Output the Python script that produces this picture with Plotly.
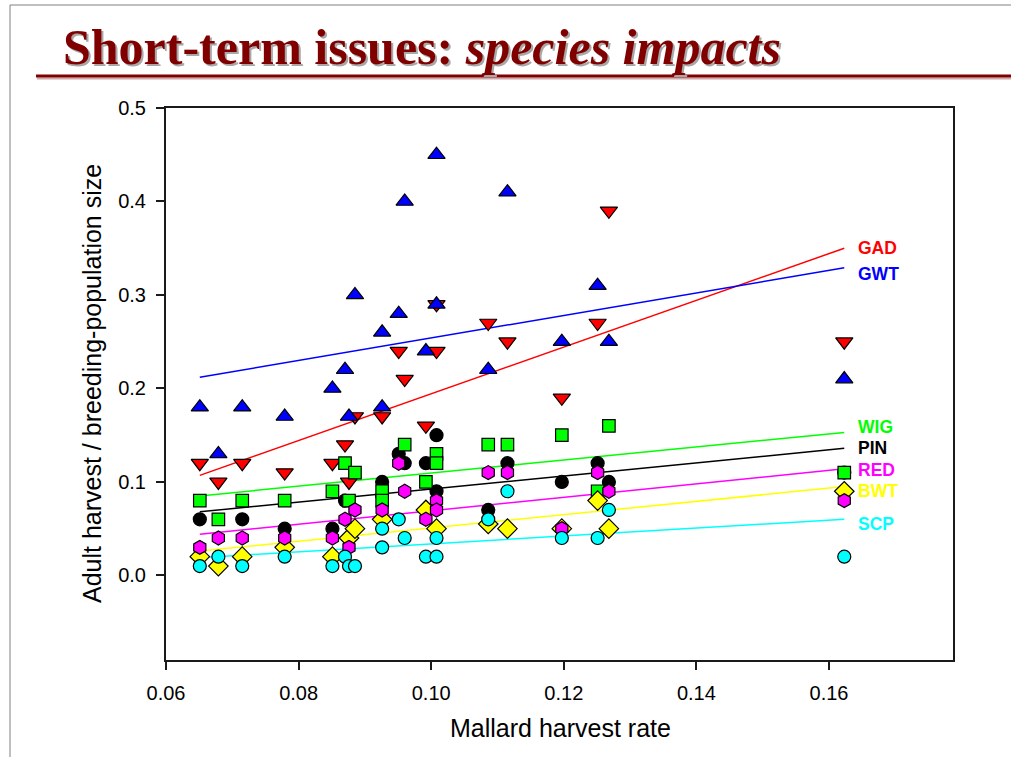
import plotly.graph_objects as go

# ---- data: mallard harvest rate vs adult harvest / breeding-population size ----
species = ["GAD", "GWT", "PIN", "WIG", "BWT", "RED", "SCP"]

gad_x = [0.0651, 0.0679, 0.0715, 0.0779, 0.0851, 0.0870, 0.0876, 0.0885, 0.0926, 0.0951,
         0.0960, 0.0992, 0.1008, 0.1008, 0.1086, 0.1115, 0.1197, 0.1251, 0.1268, 0.1623]
gad_y = [0.12, 0.10, 0.12, 0.11, 0.12, 0.14, 0.10, 0.17, 0.17, 0.24,
         0.21, 0.16, 0.29, 0.24, 0.27, 0.25, 0.19, 0.27, 0.39, 0.25]

gwt_x = [0.0651, 0.0679, 0.0715, 0.0779, 0.0851, 0.0870, 0.0876, 0.0885, 0.0926, 0.0926, 0.0951,
         0.0960, 0.0992, 0.1008, 0.1008, 0.1086, 0.1115, 0.1197, 0.1251, 0.1268, 0.1623]
gwt_y = [0.18, 0.13, 0.18, 0.17, 0.20, 0.22, 0.17, 0.30, 0.26, 0.18, 0.28,
         0.40, 0.24, 0.45, 0.29, 0.22, 0.41, 0.25, 0.31, 0.25, 0.21]

pin_x = [0.0651, 0.0715, 0.0779, 0.0851, 0.0870, 0.0926, 0.0951, 0.0960, 0.0992,
         0.1008, 0.1008, 0.1086, 0.1115, 0.1197, 0.1251, 0.1268, 0.1623]
pin_y = [0.06, 0.06, 0.05, 0.05, 0.08, 0.10, 0.13, 0.12, 0.12,
         0.15, 0.09, 0.07, 0.12, 0.10, 0.12, 0.10, 0.11]

wig_x = [0.0651, 0.0679, 0.0715, 0.0779, 0.0851, 0.0870, 0.0876, 0.0885, 0.0926, 0.0926,
         0.0960, 0.0992, 0.1008, 0.1008, 0.1086, 0.1115, 0.1197, 0.1251, 0.1268, 0.1623]
wig_y = [0.08, 0.06, 0.08, 0.08, 0.09, 0.12, 0.08, 0.11, 0.09, 0.08,
         0.14, 0.10, 0.13, 0.12, 0.14, 0.14, 0.15, 0.09, 0.16, 0.11]

bwt_x = [0.0651, 0.0679, 0.0715, 0.0779, 0.0851, 0.0876, 0.0885, 0.0926,
         0.0992, 0.1008, 0.1086, 0.1115, 0.1197, 0.1251, 0.1268, 0.1623]
bwt_y = [0.02, 0.01, 0.02, 0.03, 0.02, 0.04, 0.05, 0.06,
         0.07, 0.05, 0.055, 0.05, 0.05, 0.08, 0.05, 0.09]

red_x = [0.0651, 0.0679, 0.0715, 0.0779, 0.0851, 0.0870, 0.0876, 0.0885, 0.0926, 0.0951,
         0.0960, 0.0992, 0.1008, 0.1008, 0.1086, 0.1115, 0.1197, 0.1251, 0.1268, 0.1623]
red_y = [0.03, 0.04, 0.04, 0.04, 0.04, 0.06, 0.03, 0.07, 0.07, 0.12,
         0.09, 0.06, 0.08, 0.07, 0.11, 0.11, 0.05, 0.11, 0.09, 0.08]

scp_x = [0.0651, 0.0679, 0.0715, 0.0779, 0.0851, 0.0870, 0.0876, 0.0885, 0.0926, 0.0926, 0.0951,
         0.0960, 0.0992, 0.1008, 0.1008, 0.1086, 0.1115, 0.1197, 0.1251, 0.1268, 0.1623]
scp_y = [0.01, 0.02, 0.01, 0.02, 0.01, 0.02, 0.01, 0.01, 0.05, 0.03, 0.06,
         0.04, 0.02, 0.04, 0.02, 0.06, 0.09, 0.04, 0.04, 0.07, 0.02]

# regression lines: value at the first and last harvest rate
fit_x = [0.0651, 0.1623]
fit_gad = [0.107, 0.350]
fit_gwt = [0.212, 0.329]
fit_pin = [0.068, 0.136]
fit_wig = [0.085, 0.153]
fit_bwt = [0.026, 0.095]
fit_red = [0.044, 0.114]
fit_scp = [0.019, 0.060]

x_ticks = [0.06, 0.08, 0.10, 0.12, 0.14, 0.16]
y_ticks = [0.0, 0.1, 0.2, 0.3, 0.4, 0.5]

# ---- styling ----
series = {
    "GAD": dict(x=gad_x, y=gad_y, fit=fit_gad, color="#FF0000", symbol="triangle-down", size=15, dy=0),
    "GWT": dict(x=gwt_x, y=gwt_y, fit=fit_gwt, color="#0000FF", symbol="triangle-up", size=15, dy=-6),
    "PIN": dict(x=pin_x, y=pin_y, fit=fit_pin, color="#000000", symbol="circle", size=13, dy=0),
    "WIG": dict(x=wig_x, y=wig_y, fit=fit_wig, color="#00FF00", symbol="square", size=12.5, dy=5),
    "BWT": dict(x=bwt_x, y=bwt_y, fit=fit_bwt, color="#FFFF00", symbol="diamond", size=15, dy=-4),
    "RED": dict(x=red_x, y=red_y, fit=fit_red, color="#FF00FF", symbol="hexagon", size=14, dy=-1),
    "SCP": dict(x=scp_x, y=scp_y, fit=fit_scp, color="#00FFFF", symbol="circle", size=13, dy=-5),
}

W, H = 1011, 757
ML, MR, MT, MB = 166, 58, 108, 97
PW = W - ML - MR
PH = H - MT - MB


def px(x):
    return (x - ML) / PW


def py(y):
    return (H - MB - y) / PH


fig = go.Figure()

# fitted lines underneath the markers
for name in species:
    s = series[name]
    fig.add_trace(go.Scatter(x=fit_x, y=s["fit"], mode="lines",
                             line=dict(color=s["color"], width=1.5),
                             hoverinfo="skip", showlegend=False))

for name in species:
    s = series[name]
    fig.add_trace(go.Scatter(
        x=s["x"], y=s["y"], mode="markers", name=name, showlegend=False,
        marker=dict(symbol=s["symbol"], size=s["size"], color=s["color"],
                    line=dict(color="#000000", width=1.2)),
    ))

annotations = []
label_x = 0.1640
for name in ["GAD", "GWT", "WIG", "PIN", "RED", "BWT", "SCP"]:
    s = series[name]
    annotations.append(dict(
        x=label_x, y=s["fit"][1], xref="x", yref="y", text=f"<b>{name}</b>",
        showarrow=False, xanchor="left", yanchor="middle", yshift=s["dy"],
        font=dict(family="Liberation Sans, Arial, sans-serif", size=17.5, color=s["color"]),
    ))

# axis titles
annotations.append(dict(
    x=px(560), y=py(728), xref="paper", yref="paper", text="Mallard harvest rate",
    showarrow=False, xanchor="center", yanchor="middle",
    font=dict(family="Liberation Sans, Arial, sans-serif", size=25, color="#000000"),
))
annotations.append(dict(
    x=px(92), y=py(384), xref="paper", yref="paper",
    text="Adult harvest / breeding-population size", textangle=-90,
    showarrow=False, xanchor="center", yanchor="middle",
    font=dict(family="Liberation Sans, Arial, sans-serif", size=25, color="#000000"),
))

# slide title with drop shadow
title_text = "<b>Short-term issues: <i>species impacts</i></b>"
for color, xs, ys in [("#A8A8A8", 2, -2), ("#800000", 0, 0)]:
    annotations.append(dict(
        x=px(61), y=py(47), xref="paper", yref="paper", text=title_text,
        showarrow=False, xanchor="left", yanchor="middle", xshift=xs, yshift=ys,
        font=dict(family="Liberation Serif, Times New Roman, serif", size=50, color=color),
    ))

shapes = [
    # slide frame
    dict(type="line", xref="paper", yref="paper", x0=px(10), x1=px(10), y0=py(5), y1=py(H),
         line=dict(color="#808080", width=1)),
    dict(type="line", xref="paper", yref="paper", x0=px(10), x1=px(W), y0=py(5), y1=py(5),
         line=dict(color="#808080", width=1)),
    # title rule and its shadow
    dict(type="line", xref="paper", yref="paper", x0=px(37), x1=px(W), y0=py(78.5), y1=py(78.5),
         line=dict(color="#D0A8A8", width=2)),
    dict(type="line", xref="paper", yref="paper", x0=px(36), x1=px(W), y0=py(76), y1=py(76),
         line=dict(color="#800000", width=3)),
]

axis_font = dict(family="Liberation Sans, Arial, sans-serif", size=20, color="#000000")
fig.update_layout(
    width=W, height=H,
    margin=dict(l=ML, r=MR, t=MT, b=MB, pad=0),
    paper_bgcolor="#FFFFFF", plot_bgcolor="#FFFFFF",
    annotations=annotations, shapes=shapes,
    xaxis=dict(range=[0.06, 0.1787], tickvals=x_ticks, ticktext=[f"{v:.2f}" for v in x_ticks],
               showgrid=False, zeroline=False, showline=True, mirror=True,
               linecolor="#1A1A1A", linewidth=2, ticks="outside", ticklen=8, tickwidth=1.5,
               tickcolor="#1A1A1A", tickfont=axis_font, ticklabelstandoff=6),
    yaxis=dict(range=[-0.0905, 0.5], tickvals=y_ticks, ticktext=[f"{v:.1f}" for v in y_ticks],
               showgrid=False, zeroline=False, showline=True, mirror=True,
               linecolor="#1A1A1A", linewidth=2, ticks="outside", ticklen=8, tickwidth=1.5,
               tickcolor="#1A1A1A", tickfont=axis_font, ticklabelstandoff=6),
)

fig.write_html("out.html")
